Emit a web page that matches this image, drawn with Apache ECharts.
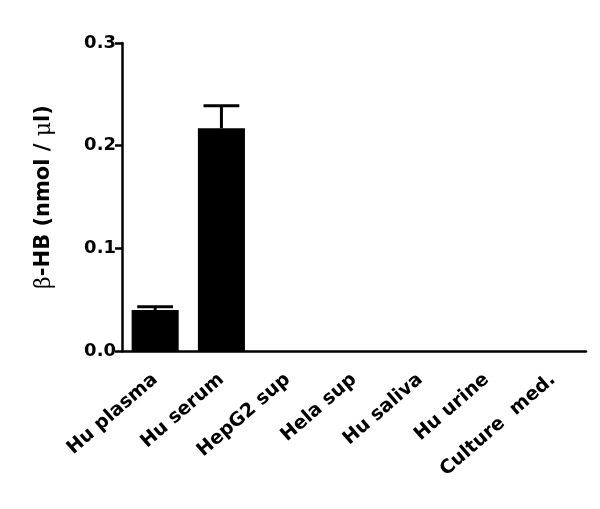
<!DOCTYPE html>
<html>
<head>
<meta charset="utf-8">
<script src="https://cdn.jsdelivr.net/npm/echarts@6/dist/echarts.min.js"></script>
<style>
html, body { margin: 0; padding: 0; background: #fff; }
#chart { width: 600px; height: 509px; }
</style>
</head>
<body>
<div id="chart"></div>
<script>
var categories = ['Hu plasma', 'Hu serum', 'HepG2 sup', 'Hela sup', 'Hu saliva', 'Hu urine', 'Culture  med.'];
var means = [0.040, 0.217, 0, 0, 0, 0, 0];
var errors = [0.003, 0.022, 0, 0, 0, 0, 0];
var yTicks = [0, 0.1, 0.2, 0.3];

var chart = echarts.init(document.getElementById('chart'));
var font = 'DejaVu Sans, Arial, sans-serif';

var option = {
    animation: false,
    grid: { left: 122, right: 14, top: 43, bottom: 158 },
    xAxis: {
        type: 'category',
        data: categories,
        axisLine: { lineStyle: { color: '#000', width: 2.5 } },
        axisTick: { alignWithLabel: true, length: 8, lineStyle: { color: '#000', width: 2.5 } },
        axisLabel: {
            rotate: 41, color: '#000', fontFamily: font, fontWeight: 'bold', fontSize: 19, margin: 26, interval: 0
        }
    },
    yAxis: {
        type: 'value',
        min: yTicks[0], max: yTicks[yTicks.length - 1], interval: 0.1,
        name: '{g|β}{b|-HB (nmol / }{g|μ}{b|l)}',
        nameLocation: 'middle',
        nameGap: 67,
        nameRotate: 90,
        nameTextStyle: {
            rich: {
                b: { fontFamily: font, fontWeight: 'bold', fontSize: 21, color: '#000' },
                g: { fontFamily: 'DejaVu Serif, serif', fontSize: 22, color: '#000' }
            }
        },
        splitLine: { show: false },
        axisLine: { show: true, lineStyle: { color: '#000', width: 2.5 } },
        axisTick: { show: true, length: 7, lineStyle: { color: '#000', width: 2.5 } },
        axisLabel: {
            color: '#000', fontFamily: font, fontWeight: 'bold', fontSize: 18, margin: 6,
            formatter: function (v) { return v.toFixed(1); }
        }
    },
    series: [
        {
            type: 'bar',
            data: means,
            barWidth: '71%',
            itemStyle: { color: '#000' }
        },
        {
            type: 'custom',
            data: means.map(function (m, i) { return [i, m, m + errors[i]]; }),
            renderItem: function (params, api) {
                var i = api.value(0);
                if (api.value(2) <= api.value(1)) return null;
                var lo = api.coord([i, api.value(1)]);
                var hi = api.coord([i, api.value(2)]);
                var half = api.size([1, 0])[0] * 0.27;
                var style = { stroke: '#000', lineWidth: 3 };
                return {
                    type: 'group',
                    children: [
                        { type: 'line', shape: { x1: lo[0], y1: lo[1], x2: hi[0], y2: hi[1] }, style: style },
                        { type: 'line', shape: { x1: hi[0] - half, y1: hi[1], x2: hi[0] + half, y2: hi[1] }, style: style }
                    ]
                };
            },
            z: 3
        }
    ]
};
chart.setOption(option);
</script>
</body>
</html>
